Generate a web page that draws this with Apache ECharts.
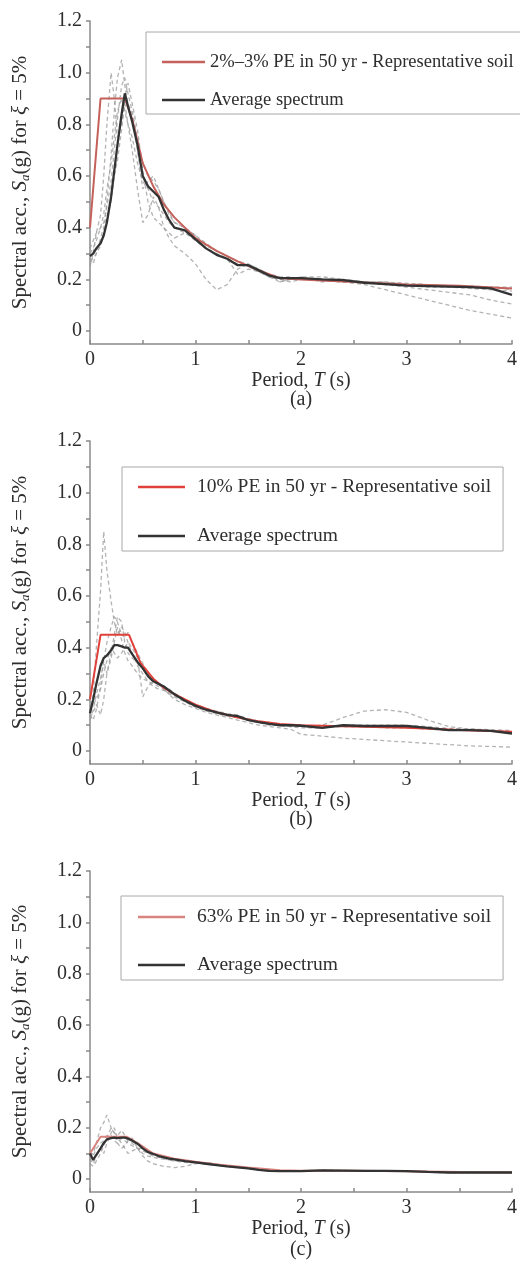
<!DOCTYPE html>
<html>
<head>
<meta charset="utf-8">
<script src="https://cdn.jsdelivr.net/npm/echarts@6/dist/echarts.min.js"></script>
<style>
html,body{margin:0;padding:0;background:#fff;}
#chart{width:520px;height:1272px;}
</style>
</head>
<body>
<div id="chart"></div>
<script>
// ---------- DATA ----------
const periods = [0, 0.03, 0.06, 0.1, 0.13, 0.16, 0.2, 0.23, 0.26, 0.3,
  0.33, 0.36, 0.4, 0.45, 0.5, 0.55, 0.6, 0.65, 0.7, 0.75,
  0.8, 0.9, 1.0, 1.1, 1.2, 1.3, 1.4, 1.5, 1.6, 1.7,
  1.8, 1.9, 2.0, 2.2, 2.4, 2.6, 2.8, 3.0, 3.2, 3.4,
  3.6, 3.8, 4.0];

// Panel (a)
const designA_T  = [0, 0.1, 0.33, 0.4, 0.5, 0.6, 0.7, 0.8, 1.0, 1.2, 1.4, 1.6, 1.8, 2.0, 2.5, 3.0, 3.5, 4.0];
const designA_Sa = [0.40, 0.90, 0.90, 0.82, 0.65, 0.56, 0.49, 0.44, 0.36, 0.31, 0.27, 0.235, 0.205, 0.20, 0.19, 0.18, 0.175, 0.165];
const avgA = [0.29, 0.30, 0.32, 0.34, 0.37, 0.42, 0.52, 0.62, 0.72, 0.84,
  0.92, 0.87, 0.81, 0.72, 0.60, 0.56, 0.54, 0.52, 0.47, 0.43,
  0.40, 0.39, 0.355, 0.32, 0.295, 0.28, 0.255, 0.255, 0.235, 0.215,
  0.205, 0.205, 0.205, 0.20, 0.197, 0.187, 0.182, 0.176, 0.174, 0.172,
  0.17, 0.165, 0.14];
const recA1 = [0.27, 0.28, 0.30, 0.33, 0.38, 0.50, 0.68, 0.85, 0.98, 1.05,
  0.95, 0.88, 0.84, 0.70, 0.55, 0.58, 0.60, 0.55, 0.50, 0.45,
  0.42, 0.40, 0.37, 0.33, 0.31, 0.29, 0.27, 0.26, 0.24, 0.22,
  0.21, 0.21, 0.20, 0.20, 0.20, 0.19, 0.19, 0.185, 0.18, 0.175,
  0.17, 0.17, 0.17];
const recA2 = [0.25, 0.30, 0.38, 0.45, 0.60, 0.80, 1.00, 0.90, 0.75, 0.80,
  0.88, 0.80, 0.70, 0.55, 0.42, 0.45, 0.52, 0.48, 0.40, 0.36,
  0.33, 0.30, 0.26, 0.20, 0.16, 0.18, 0.24, 0.26, 0.24, 0.22,
  0.19, 0.20, 0.21, 0.19, 0.20, 0.19, 0.18, 0.17, 0.16, 0.15,
  0.14, 0.12, 0.105];
const recA3 = [0.30, 0.32, 0.35, 0.40, 0.45, 0.55, 0.65, 0.75, 0.85, 0.90,
  0.85, 0.80, 0.75, 0.65, 0.58, 0.55, 0.50, 0.48, 0.45, 0.42,
  0.40, 0.38, 0.35, 0.32, 0.30, 0.28, 0.26, 0.25, 0.23, 0.21,
  0.20, 0.20, 0.20, 0.195, 0.19, 0.18, 0.16, 0.14, 0.12, 0.10,
  0.08, 0.065, 0.05];
const recA4 = [0.32, 0.35, 0.38, 0.40, 0.42, 0.48, 0.58, 0.70, 0.82, 0.95,
  0.98, 0.92, 0.85, 0.75, 0.65, 0.60, 0.58, 0.55, 0.50, 0.46,
  0.42, 0.40, 0.37, 0.34, 0.31, 0.29, 0.27, 0.25, 0.23, 0.21,
  0.19, 0.20, 0.21, 0.21, 0.20, 0.19, 0.19, 0.18, 0.18, 0.175,
  0.175, 0.17, 0.16];
const recA5 = [0.28, 0.26, 0.30, 0.36, 0.40, 0.44, 0.50, 0.60, 0.66, 0.78,
  0.90, 0.96, 0.88, 0.78, 0.62, 0.50, 0.44, 0.42, 0.40, 0.38,
  0.36, 0.38, 0.36, 0.32, 0.30, 0.28, 0.22, 0.24, 0.23, 0.21,
  0.20, 0.19, 0.20, 0.20, 0.19, 0.19, 0.18, 0.18, 0.17, 0.17,
  0.165, 0.16, 0.155];

// Panel (b)
const designB_T  = [0, 0.1, 0.37, 0.48, 0.6, 0.7, 0.8, 1.0, 1.2, 1.4, 1.6, 1.8, 2.0, 2.5, 3.0, 3.5, 4.0];
const designB_Sa = [0.20, 0.45, 0.45, 0.34, 0.28, 0.245, 0.22, 0.18, 0.15, 0.13, 0.115, 0.105, 0.10, 0.095, 0.09, 0.082, 0.075];
const avgB = [0.146, 0.20, 0.26, 0.33, 0.36, 0.37, 0.39, 0.41, 0.41, 0.405,
  0.40, 0.40, 0.375, 0.345, 0.32, 0.29, 0.27, 0.26, 0.25, 0.235,
  0.22, 0.195, 0.175, 0.16, 0.15, 0.14, 0.135, 0.12, 0.112, 0.105,
  0.10, 0.10, 0.098, 0.09, 0.10, 0.097, 0.097, 0.097, 0.09, 0.081,
  0.081, 0.078, 0.068];
const recB1 = [0.15, 0.22, 0.40, 0.62, 0.85, 0.70, 0.58, 0.50, 0.45, 0.48,
  0.46, 0.42, 0.38, 0.33, 0.30, 0.27, 0.26, 0.25, 0.24, 0.23,
  0.22, 0.20, 0.18, 0.165, 0.15, 0.14, 0.135, 0.125, 0.115, 0.105,
  0.10, 0.10, 0.10, 0.095, 0.10, 0.10, 0.10, 0.10, 0.095, 0.088,
  0.085, 0.083, 0.08];
const recB2 = [0.12, 0.16, 0.22, 0.28, 0.35, 0.42, 0.48, 0.52, 0.50, 0.45,
  0.44, 0.46, 0.42, 0.38, 0.34, 0.30, 0.28, 0.26, 0.24, 0.22,
  0.21, 0.19, 0.17, 0.155, 0.145, 0.135, 0.13, 0.12, 0.11, 0.105,
  0.10, 0.095, 0.095, 0.10, 0.13, 0.155, 0.16, 0.15, 0.12, 0.095,
  0.085, 0.08, 0.075];
const recB3 = [0.16, 0.18, 0.20, 0.24, 0.30, 0.35, 0.40, 0.38, 0.36, 0.38,
  0.40, 0.42, 0.40, 0.36, 0.21, 0.25, 0.27, 0.26, 0.24, 0.22,
  0.20, 0.18, 0.165, 0.15, 0.14, 0.13, 0.12, 0.11, 0.10, 0.095,
  0.09, 0.085, 0.065, 0.058, 0.05, 0.045, 0.04, 0.035, 0.03, 0.025,
  0.02, 0.018, 0.015];
const recB4 = [0.13, 0.15, 0.18, 0.14, 0.20, 0.30, 0.36, 0.42, 0.48, 0.43,
  0.38, 0.35, 0.33, 0.30, 0.28, 0.27, 0.25, 0.24, 0.235, 0.225,
  0.215, 0.20, 0.18, 0.165, 0.155, 0.145, 0.14, 0.125, 0.115, 0.11,
  0.105, 0.10, 0.10, 0.095, 0.095, 0.095, 0.095, 0.095, 0.09, 0.085,
  0.085, 0.08, 0.075];
const recB5 = [0.14, 0.12, 0.16, 0.25, 0.35, 0.30, 0.38, 0.45, 0.52, 0.50,
  0.42, 0.38, 0.36, 0.34, 0.32, 0.30, 0.28, 0.26, 0.25, 0.24,
  0.225, 0.20, 0.18, 0.16, 0.15, 0.14, 0.13, 0.12, 0.11, 0.10,
  0.10, 0.095, 0.09, 0.09, 0.095, 0.095, 0.09, 0.09, 0.085, 0.08,
  0.08, 0.078, 0.07];

// Panel (c)
const designC_T  = [0, 0.1, 0.35, 0.45, 0.6, 0.8, 1.0, 1.2, 1.5, 1.8, 2.0, 2.5, 3.0, 3.5, 4.0];
const designC_Sa = [0.10, 0.165, 0.165, 0.14, 0.10, 0.08, 0.068, 0.057, 0.045, 0.035, 0.033, 0.033, 0.031, 0.028, 0.027];
const avgC = [0.10, 0.075, 0.095, 0.12, 0.14, 0.155, 0.16, 0.162, 0.16, 0.162,
  0.162, 0.158, 0.15, 0.138, 0.12, 0.105, 0.098, 0.09, 0.085, 0.08,
  0.077, 0.07, 0.065, 0.06, 0.055, 0.05, 0.046, 0.042, 0.036, 0.032,
  0.031, 0.031, 0.031, 0.034, 0.033, 0.032, 0.032, 0.031, 0.028, 0.026,
  0.026, 0.026, 0.026];
const recC1 = [0.09, 0.10, 0.14, 0.20, 0.22, 0.25, 0.20, 0.18, 0.17, 0.19,
  0.17, 0.15, 0.14, 0.12, 0.10, 0.09, 0.085, 0.08, 0.078, 0.075,
  0.072, 0.068, 0.063, 0.058, 0.054, 0.05, 0.046, 0.042, 0.036, 0.033,
  0.031, 0.031, 0.031, 0.034, 0.033, 0.032, 0.032, 0.031, 0.029, 0.027,
  0.027, 0.027, 0.027];
const recC2 = [0.06, 0.05, 0.07, 0.10, 0.13, 0.16, 0.20, 0.18, 0.14, 0.12,
  0.13, 0.15, 0.16, 0.12, 0.09, 0.07, 0.06, 0.055, 0.05, 0.048,
  0.045, 0.05, 0.06, 0.065, 0.06, 0.05, 0.045, 0.04, 0.035, 0.032,
  0.03, 0.03, 0.03, 0.033, 0.032, 0.031, 0.031, 0.03, 0.027, 0.025,
  0.025, 0.025, 0.025];
const recC3 = [0.11, 0.09, 0.12, 0.14, 0.15, 0.17, 0.17, 0.15, 0.14, 0.16,
  0.15, 0.14, 0.13, 0.12, 0.11, 0.10, 0.095, 0.09, 0.085, 0.08,
  0.078, 0.072, 0.066, 0.06, 0.055, 0.05, 0.047, 0.043, 0.037, 0.033,
  0.032, 0.032, 0.032, 0.035, 0.034, 0.033, 0.033, 0.032, 0.029, 0.027,
  0.027, 0.027, 0.027];
const recC4 = [0.08, 0.06, 0.09, 0.12, 0.10, 0.14, 0.18, 0.20, 0.16, 0.14,
  0.12, 0.10, 0.11, 0.12, 0.12, 0.10, 0.09, 0.085, 0.08, 0.075,
  0.07, 0.065, 0.063, 0.06, 0.055, 0.05, 0.045, 0.042, 0.036, 0.032,
  0.03, 0.03, 0.03, 0.033, 0.032, 0.031, 0.031, 0.03, 0.028, 0.026,
  0.026, 0.026, 0.026];

const xTickValues  = [0, 0.5, 1, 1.5, 2, 2.5, 3, 3.5, 4];
const xLabelValues = [0, 1, 2, 3, 4];
const yTickValues  = [0, 0.1, 0.2, 0.3, 0.4, 0.5, 0.6, 0.7, 0.8, 0.9, 1.0, 1.1, 1.2];
const yLabelValues = [0, 0.2, 0.4, 0.6, 0.8, 1.0, 1.2];

const designNames = ['2%–3% PE in 50 yr - Representative soil',
                     '10% PE in 50 yr - Representative soil',
                     '63% PE in 50 yr - Representative soil'];
const avgName = 'Average spectrum';
const captions = ['(a)', '(b)', '(c)'];

// ---------- CHART ----------
const FONT = "'Liberation Serif', 'Times New Roman', serif";
const TXT = '#2e2e2e';
const AX = '#8a8a8a';

function pairs(xs, ys) { return xs.map((x, i) => [x, ys[i]]); }

const panels = [
  { design: [designA_T, designA_Sa], avg: avgA, recs: [recA1, recA2, recA3, recA4, recA5], red: '#c4615b',
    top: 21, height: 323, legend: { left: 146, top: 32, pad: [19, 10, 3, 16], fs: 18.5, lh: 22, gap: 16, iw: 43, tp: 0 }, cap: 400 },
  { design: [designB_T, designB_Sa], avg: avgB, recs: [recB1, recB2, recB3, recB4, recB5], red: '#e0413b',
    top: 441, height: 323, legend: { left: 122, top: 467, pad: [8, 12, 3, 16], fs: 19.5, lh: 24, gap: 25, iw: 47, tp: 7 }, cap: 820 },
  { design: [designC_T, designC_Sa], avg: avgC, recs: [recC1, recC2, recC3, recC4], red: '#d8837e',
    top: 871, height: 321, legend: { left: 121, top: 896, pad: [9, 12, 3, 17], fs: 19.5, lh: 24, gap: 24, iw: 47, tp: 7 }, cap: 1250 }
];

const grid = [], xAxis = [], yAxis = [], series = [], legend = [];

panels.forEach((p, k) => {
  grid.push({ left: 90, right: 8, top: p.top, height: p.height });
  xAxis.push({
    type: 'value', gridIndex: k, min: 0, max: 4,
    name: 'Period, {i|T} (s)', nameLocation: 'middle', nameGap: 22,
    nameTextStyle: { fontFamily: FONT, fontSize: 20, color: TXT,
      rich: { i: { fontFamily: FONT, fontSize: 20, fontStyle: 'italic', color: TXT } } },
    axisLine: { onZero: false, lineStyle: { color: AX, width: 1.5 } },
    axisTick: { inside: true, length: 4, customValues: xTickValues, lineStyle: { color: AX, width: 1.5 } },
    axisLabel: { customValues: xLabelValues, margin: 6, fontFamily: FONT, fontSize: 20, color: TXT },
    splitLine: { show: false }
  });
  yAxis.push({
    type: 'value', gridIndex: k, min: -0.05, max: 1.2,
    name: 'Spectral acc., {i|S}{sub|a}(g) for {i|ξ} = 5%', nameLocation: 'middle', nameRotate: 90, nameGap: 58,
    nameTextStyle: { fontFamily: FONT, fontSize: 21, color: TXT, lineHeight: 24,
      rich: {
        i: { fontFamily: FONT, fontSize: 21, fontStyle: 'italic', color: TXT, lineHeight: 24 },
        sub: { fontFamily: FONT, fontSize: 13, fontStyle: 'italic', color: TXT, verticalAlign: 'bottom', lineHeight: 13 }
      } },
    axisLine: { show: true, lineStyle: { color: AX, width: 1.5 } },
    axisTick: { show: true, length: 4, customValues: yTickValues, lineStyle: { color: AX, width: 1.5 } },
    axisLabel: { customValues: yLabelValues, margin: 8, fontFamily: FONT, fontSize: 20, color: TXT,
      formatter: v => (v === 0 ? '0' : v.toFixed(1)) },
    splitLine: { show: false }
  });
  p.recs.forEach((r, j) => {
    series.push({
      name: 'Record ' + captions[k] + (j + 1), type: 'line', xAxisIndex: k, yAxisIndex: k,
      data: pairs(periods, r), symbol: 'none', silent: true, z: 1,
      lineStyle: { color: '#9a9a9a', width: 1.3, type: [4, 3], opacity: 0.75 }
    });
  });
  series.push({
    name: designNames[k], type: 'line', xAxisIndex: k, yAxisIndex: k,
    data: pairs(p.design[0], p.design[1]), symbol: 'none', z: 3,
    lineStyle: { color: p.red, width: 2 }, itemStyle: { color: p.red }
  });
  series.push({
    name: avgName, type: 'line', xAxisIndex: k, yAxisIndex: k,
    data: pairs(periods, p.avg), symbol: 'none', z: 4,
    lineStyle: { color: '#333333', width: 2.3 }, itemStyle: { color: '#333333' }
  });
  const L = p.legend;
  legend.push({
    data: [designNames[k], avgName], orient: 'vertical', left: L.left, top: L.top,
    padding: L.pad, itemGap: L.gap, itemWidth: L.iw, itemHeight: 2.5, icon: 'rect',
    borderColor: '#a8a8a8', borderWidth: 1, backgroundColor: '#fff',
    selectedMode: false,
    textStyle: { fontFamily: FONT, fontSize: L.fs, lineHeight: L.lh, color: TXT, padding: [0, 0, 0, L.tp] }
  });
});

// captions placed at the centre of each plot area
const capGraphic = panels.map((p, k) => ({
  type: 'text', x: 301, y: p.cap,
  style: { text: captions[k], fontFamily: FONT, fontSize: 20, fill: TXT, align: 'center', verticalAlign: 'middle' },
  silent: true
}));

const chart = echarts.init(document.getElementById('chart'), null, { renderer: 'canvas' });
chart.setOption({
  animation: false,
  backgroundColor: '#fff',
  grid, xAxis, yAxis, legend, series,
  graphic: capGraphic
});
</script>
</body>
</html>
